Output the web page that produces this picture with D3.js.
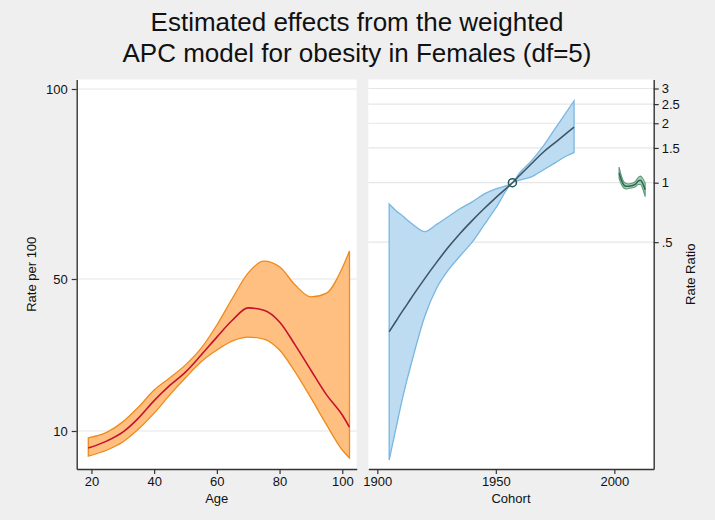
<!DOCTYPE html>
<html><head><meta charset="utf-8">
<script src="https://cdn.jsdelivr.net/npm/d3@7"></script>
<style>body{margin:0;background:#efefef}svg{display:block}text{font-family:"Liberation Sans",Arial,sans-serif;fill:#111}</style>
</head><body><svg id="c" width="715" height="520"></svg>
<script>
// ---- Data ----
const titleLines = ["Estimated effects from the weighted", "APC model for obesity in Females (df=5)"];
const ages = [19, 25, 30, 35, 40, 45, 50, 55, 60, 65, 70, 75, 80, 85, 90, 95, 100, 102.3];
const ageRate = [5.5, 7.4, 9.7, 13.4, 18, 22, 25.5, 30, 34.7, 39.2, 42.4, 41.8, 38.7, 32.6, 26, 19.5, 14.2, 11];
const ageUpper = [8.2, 9.7, 12.4, 16.3, 20.8, 24, 27.4, 31.8, 37.9, 45, 51.6, 54.7, 53.2, 48.4, 45.3, 46.3, 52.9, 57.4];
const ageLower = [3.4, 5, 7.1, 10.5, 14.7, 19.5, 24, 28.2, 31.3, 33.7, 34.7, 34.2, 31.3, 25.5, 18.7, 11.6, 5, 2.9];
const cohorts = [1905, 1908, 1910, 1912.5, 1915, 1920, 1925, 1930, 1935, 1940, 1945, 1950, 1957, 1960, 1965, 1970, 1975, 1980, 1983];
const cohRR = [0.176, 0.200, 0.218, 0.2415, 0.268, 0.327, 0.395, 0.472, 0.555, 0.643, 0.738, 0.841, 1.0, 1.087, 1.247, 1.426, 1.596, 1.786, 1.91];
const cohUpper = [0.78, 0.72, 0.69, 0.65, 0.615, 0.565, 0.615, 0.675, 0.74, 0.80, 0.875, 0.93, 1.0, 1.12, 1.29, 1.53, 1.88, 2.3, 2.6];
const cohLower = [0.0394, 0.058, 0.075, 0.10, 0.13, 0.21, 0.292, 0.362, 0.427, 0.50, 0.61, 0.745, 1.0, 1.03, 1.07, 1.16, 1.26, 1.37, 1.42];
const refCohort = 1957, refRR = 1;
const periods = [2002, 2003, 2004, 2005, 2006, 2007, 2008, 2009, 2010, 2011, 2012, 2013];
const perRR = [1.12, 1.03, 0.975, 0.96, 0.96, 0.965, 0.97, 0.985, 1.02, 1.03, 0.99, 0.92];
const perUpper = [1.20, 1.08, 1.01, 0.99, 0.985, 0.99, 1.0, 1.02, 1.06, 1.08, 1.05, 1.00];
const perLower = [1.05, 0.98, 0.94, 0.93, 0.935, 0.94, 0.945, 0.955, 0.98, 0.98, 0.93, 0.85];
const rateTicks = [10, 50, 100];
const ageTicks = [20, 40, 60, 80, 100];
const yearTicks = [1900, 1950, 2000];
const rrTicks = [0.5, 1, 1.5, 2, 2.5, 3];
const rrTickLabels = [".5", "1", "1.5", "2", "2.5", "3"];

// ---- Layout ----
const svg = d3.select("#c");
const yTop = 79.5, yBot = 469;
const L = {x0: 76.7, x1: 356.7};
const R = {x0: 368.3, x1: 653.7};

const xAge = d3.scaleLinear().domain([15.3, 104.6]).range([L.x0, L.x1]);
const yRate = d3.scaleLinear().domain([0, 102.5]).range([yBot, yTop]);
const xYear = d3.scaleLinear().domain([1896.2, 2016.6]).range([R.x0, R.x1]);
const yRR = d3.scaleLog().domain([0.03552, 3.331]).range([yBot, yTop]);

svg.append("rect").attr("width", 715).attr("height", 520).attr("fill", "#efefef");
svg.append("rect").attr("x", L.x0).attr("y", yTop).attr("width", L.x1 - L.x0).attr("height", yBot - yTop).attr("fill", "#fff");
svg.append("rect").attr("x", R.x0).attr("y", yTop).attr("width", R.x1 - R.x0).attr("height", yBot - yTop).attr("fill", "#fff");

// gridlines
svg.append("g").selectAll("line").data(rateTicks).join("line")
  .attr("x1", L.x0).attr("x2", L.x1).attr("y1", d => yRate(d)).attr("y2", d => yRate(d))
  .attr("stroke", "#e6e6e6").attr("stroke-width", 1.2);
svg.append("g").selectAll("line").data(rrTicks).join("line")
  .attr("x1", R.x0).attr("x2", R.x1).attr("y1", d => yRR(d)).attr("y2", d => yRR(d))
  .attr("stroke", "#e6e6e6").attr("stroke-width", 1.2);

// Age panel
const ageData = ages.map((a, i) => ({a, m: ageRate[i], u: ageUpper[i], l: ageLower[i]}));
svg.append("path").datum(ageData)
  .attr("d", d3.area().x(d => xAge(d.a)).y0(d => yRate(d.l)).y1(d => yRate(d.u)).curve(d3.curveMonotoneX))
  .attr("fill", "#ffbf80").attr("stroke", "#f08a1c").attr("stroke-width", 1.3);
svg.append("path").datum(ageData)
  .attr("d", d3.line().x(d => xAge(d.a)).y(d => yRate(d.m)).curve(d3.curveMonotoneX))
  .attr("fill", "none").attr("stroke", "#c4122f").attr("stroke-width", 1.6);

// Cohort panel
const cohData = cohorts.map((c, i) => ({c, m: cohRR[i], u: cohUpper[i], l: cohLower[i]}));
svg.append("path").datum(cohData)
  .attr("d", d3.area().x(d => xYear(d.c)).y0(d => yRR(d.l)).y1(d => yRR(d.u)).curve(d3.curveMonotoneX))
  .attr("fill", "#bddcf2").attr("stroke", "#79b6e2").attr("stroke-width", 1.3);
svg.append("path").datum(cohData)
  .attr("d", d3.line().x(d => xYear(d.c)).y(d => yRR(d.m)).curve(d3.curveMonotoneX))
  .attr("fill", "none").attr("stroke", "#3e5666").attr("stroke-width", 1.6);
svg.append("circle").attr("cx", xYear(refCohort)).attr("cy", yRR(refRR)).attr("r", 4)
  .attr("fill", "none").attr("stroke", "#1e5a5a").attr("stroke-width", 1.5);

// Period
const perData = periods.map((p, i) => ({p, m: perRR[i], u: perUpper[i], l: perLower[i]}));
svg.append("path").datum(perData)
  .attr("d", d3.area().x(d => xYear(d.p)).y0(d => yRR(d.l)).y1(d => yRR(d.u)).curve(d3.curveMonotoneX))
  .attr("fill", "#a9cdb9").attr("stroke", "#5f9a7c").attr("stroke-width", 1.1);
svg.append("path").datum(perData)
  .attr("d", d3.line().x(d => xYear(d.p)).y(d => yRR(d.m)).curve(d3.curveMonotoneX))
  .attr("fill", "none").attr("stroke", "#2a6a4c").attr("stroke-width", 1.5);

// Axes
function styleAxis(g) {
  g.selectAll("path.domain").attr("stroke", "#333").attr("stroke-width", 1.4);
  g.selectAll(".tick line").attr("stroke", "#333").attr("stroke-width", 1.2);
  g.selectAll(".tick text").attr("font-size", 13).attr("fill", "#111")
    .attr("font-family", "'Liberation Sans', Arial, sans-serif");
}
svg.append("g").attr("transform", `translate(${L.x0},0)`)
  .call(d3.axisLeft(yRate).tickValues(rateTicks).tickSize(5).tickPadding(4).tickFormat(d3.format("d")).tickSizeOuter(0))
  .call(styleAxis);
svg.append("g").attr("transform", `translate(0,${yBot})`)
  .call(d3.axisBottom(xAge).tickValues(ageTicks).tickSize(5).tickPadding(3).tickSizeOuter(0))
  .call(styleAxis);
svg.append("g").attr("transform", `translate(0,${yBot})`)
  .call(d3.axisBottom(xYear).tickValues(yearTicks).tickSize(5).tickPadding(3).tickFormat(d3.format("d")).tickSizeOuter(0))
  .call(styleAxis);
svg.append("g").attr("transform", `translate(${R.x1},0)`)
  .call(d3.axisRight(yRR).tickValues(rrTicks).tickSize(5).tickPadding(3).tickFormat((d, i) => rrTickLabels[i]).tickSizeOuter(0))
  .call(styleAxis);

// Axis titles
svg.append("text").attr("x", (L.x0 + L.x1) / 2).attr("y", 503).attr("text-anchor", "middle").attr("font-size", 13).text("Age");
svg.append("text").attr("x", (R.x0 + R.x1) / 2).attr("y", 503).attr("text-anchor", "middle").attr("font-size", 13).text("Cohort");
svg.append("text").attr("transform", `translate(36,${(yTop + yBot) / 2}) rotate(-90)`).attr("text-anchor", "middle").attr("font-size", 13).text("Rate per 100");
svg.append("text").attr("transform", `translate(695,${(yTop + yBot) / 2}) rotate(-90)`).attr("text-anchor", "middle").attr("font-size", 13).text("Rate Ratio");

// Title
svg.append("g").selectAll("text").data(titleLines).join("text")
  .attr("x", 357).attr("y", (d, i) => 31 + i * 31).attr("text-anchor", "middle").attr("font-size", 26).text(d => d);
</script></body></html>
